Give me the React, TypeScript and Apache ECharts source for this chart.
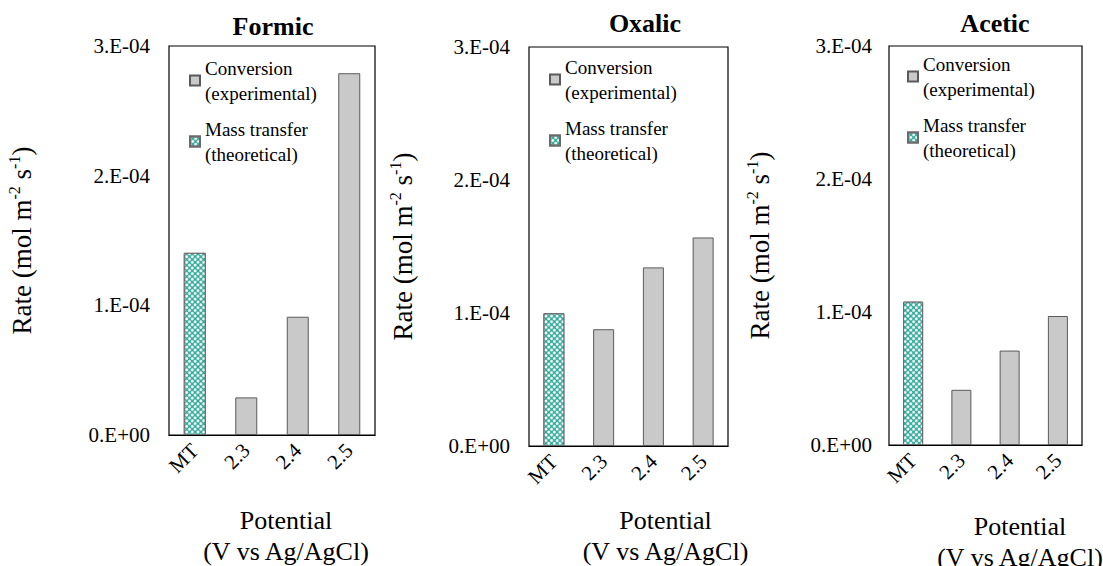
import React, { useEffect, useRef } from "react";
import * as echarts from "echarts";

const categories = ["MT", "2.3", "2.4", "2.5"];
const yTickLabels = ["0.E+00", "1.E-04", "2.E-04", "3.E-04"];
const panelTitles = ["Formic", "Oxalic", "Acetic"];

const formicConversion = [null, 0.29e-4, 0.912e-4, 2.79e-4];
const formicMassTransfer = [1.405e-4, null, null, null];
const oxalicConversion = [null, 0.878e-4, 1.343e-4, 1.568e-4];
const oxalicMassTransfer = [0.998e-4, null, null, null];
const aceticConversion = [null, 0.415e-4, 0.71e-4, 0.97e-4];
const aceticMassTransfer = [1.078e-4, null, null, null];

const CONV = "Conversion\n(experimental)";
const MT = "Mass transfer\n(theoretical)";
const FONT = "Liberation Serif";

const panels = [
  { title: panelTitles[0], conv: formicConversion, mt: formicMassTransfer,
    grid: { left: 169, top: 46, width: 206, height: 389 }, barWidth: 22,
    titleX: 268, titleTop: 8, nameGapY: 131, labelMarginY: 19, nameGapX: 70, nameLH: 31, namePadX: 28,
    legendLeft: 184, legendTop: 38 },
  { title: panelTitles[1], conv: oxalicConversion, mt: oxalicMassTransfer,
    grid: { left: 529, top: 47, width: 199, height: 399 }, barWidth: 21,
    titleX: 640, titleTop: 5, nameGapY: 110, labelMarginY: 19, nameGapX: 59, nameLH: 31, namePadX: 74,
    legendLeft: 544, legendTop: 37 },
  { title: panelTitles[2], conv: aceticConversion, mt: aceticMassTransfer,
    grid: { left: 889, top: 46, width: 193, height: 399 }, barWidth: 20,
    titleX: 990, titleTop: 5, nameGapY: 113, labelMarginY: 17, nameGapX: 66, nameLH: 31, namePadX: 69,
    legendLeft: 902, legendTop: 34 },
];

export default function App() {
  const ref = useRef<HTMLDivElement>(null);
  useEffect(() => {
    document.body.style.margin = "0";
    document.body.style.overflow = "hidden";
    const chart = echarts.init(ref.current!, null, { renderer: "svg" });
    const grey = { color: "#c9c9c9", borderColor: "#5a5a5a", borderWidth: 1 };
    const teal = {
      color: "#2ba697",
      borderColor: "#6a6a6a",
      borderWidth: 1,
      decal: {
        symbol: "circle",
        symbolSize: 1,
        color: "#ffffff",
        dashArrayX: [3, 1],
        dashArrayY: [3, 1],
        rotation: Math.PI / 4,
      },
    };
    const option: any = {
      animation: false,
      backgroundColor: "#ffffff",
      textStyle: { fontFamily: FONT },
      title: panels.map((p) => ({
        text: p.title,
        left: p.titleX,
        top: p.titleTop,
        textAlign: "center",
        textStyle: { fontFamily: FONT, fontSize: 26, fontWeight: "bold", color: "#000" },
      })),
      legend: panels.map((p) => ({
        data: [CONV, MT],
        orient: "vertical",
        left: p.legendLeft,
        top: p.legendTop,
        icon: "rect",
        itemWidth: 10,
        itemHeight: 10,
        itemGap: -14,
        selectedMode: false,
        textStyle: { fontFamily: FONT, fontSize: 19, lineHeight: 25, color: "#000", padding: [25, 0, 0, 0] },
      })),
      grid: panels.map((p) => ({
        ...p.grid,
        outerBoundsMode: "none",
        containLabel: false,
        show: true,
        borderColor: "#000",
        borderWidth: 1.2,
        backgroundColor: "transparent",
      })),
      xAxis: panels.map((p, i) => ({
        type: "category",
        gridIndex: i,
        data: categories,
        axisLine: { show: true, lineStyle: { color: "#000", width: 1.2 } },
        axisTick: { show: false },
        axisLabel: { rotate: 45, margin: 12, fontFamily: FONT, fontSize: 21, color: "#000" },
        name: "Potential\n(V vs Ag/AgCl)",
        nameLocation: "middle",
        nameGap: p.nameGapX,
        nameTextStyle: { fontFamily: FONT, fontSize: 26, lineHeight: p.nameLH, color: "#000", padding: [0, 0, 0, p.namePadX] },
      })),
      yAxis: panels.map((p, i) => ({
        type: "value",
        gridIndex: i,
        min: 0,
        max: 3e-4,
        interval: 1e-4,
        axisLine: { show: false },
        axisTick: { show: false },
        splitLine: { show: false },
        axisLabel: {
          margin: p.labelMarginY,
          fontFamily: FONT,
          fontSize: 21,
          color: "#000",
          formatter: (v: number) => yTickLabels[Math.round(v / 1e-4)],
        },
        name: "Rate (mol m{sup|-2} s{sup|-1})",
        nameLocation: "middle",
        nameGap: p.nameGapY,
        nameTextStyle: {
          fontFamily: FONT,
          fontSize: 27,
          lineHeight: 32,
          color: "#000",
          rich: { sup: { fontFamily: FONT, fontSize: 16, lineHeight: 16, verticalAlign: "top", color: "#000" } },
        },
      })),
      series: panels.flatMap((p, i) => [
        {
          name: CONV, type: "bar", xAxisIndex: i, yAxisIndex: i, data: p.conv,
          barWidth: p.barWidth, barGap: "-100%", itemStyle: grey,
        },
        {
          name: MT, type: "bar", xAxisIndex: i, yAxisIndex: i, data: p.mt,
          barWidth: p.barWidth, barGap: "-100%", itemStyle: teal,
        },
      ]),
    };
    chart.setOption(option);
    return () => chart.dispose();
  }, []);
  return <div ref={ref} style={{ width: 1103, height: 566, overflow: "hidden" }} />;
}
